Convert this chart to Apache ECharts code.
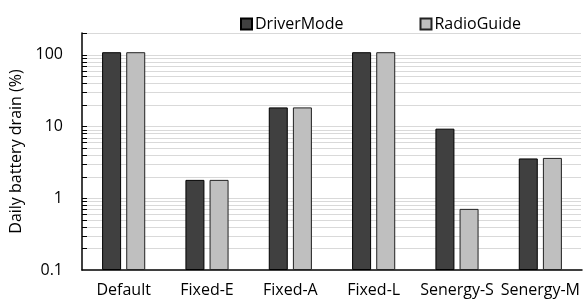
<!DOCTYPE html>
<html>
<head>
<meta charset="utf-8">
<script src="https://cdn.jsdelivr.net/npm/echarts@6/dist/echarts.min.js"></script>
<style>
  html, body { margin: 0; padding: 0; background: #fff; }
  #chart { width: 585px; height: 301px; }
</style>
</head>
<body>
<div id="chart"></div>
<script>
// categories and series
const categories = ["Default", "Fixed-E", "Fixed-A", "Fixed-L", "Senergy-S", "Senergy-M"];
const driverMode = [108, 1.8, 18.4, 108, 9.3, 3.58];
const radioGuide = [108, 1.8, 18.4, 108, 0.71, 3.64];
// log gridlines (minor + major) between 0.1 and 200
const gridValues = [0.2, 0.3, 0.4, 0.5, 0.6, 0.7, 0.8, 0.9, 1,
  2, 3, 4, 5, 6, 7, 8, 9, 10,
  20, 30, 40, 50, 60, 70, 80, 90, 100, 200];

const font = "'Open Sans', sans-serif";
const chart = echarts.init(document.getElementById("chart"));

chart.setOption({
  animation: false,
  textStyle: { fontFamily: font },
  legend: {
    data: ["DriverMode", "RadioGuide"],
    left: 235,
    top: 11,
    itemWidth: 11,
    itemHeight: 11,
    itemGap: 76,
    icon: "rect",
    textStyle: { fontSize: 16, color: "#000", fontFamily: font, padding: [0, 0, 0, -2] },
  },
  grid: { left: 82, right: 3, top: 33, bottom: 31 },
  xAxis: {
    type: "category",
    data: categories,
    axisTick: { show: false },
    axisLine: { lineStyle: { color: "#000", width: 1.5 } },
    axisLabel: { color: "#000", fontSize: 16, margin: 12, interval: 0 },
  },
  yAxis: {
    type: "log",
    logBase: 10,
    min: 0.1,
    max: 200,
    startValue: 0.1,
    name: "Daily battery drain (%)",
    nameLocation: "middle",
    nameGap: 56,
    nameTextStyle: { fontSize: 16, color: "#000" },
    axisLine: { show: true, lineStyle: { color: "#000", width: 1.5 } },
    axisTick: { show: false },
    splitLine: { show: false },
    axisLabel: {
      color: "#000",
      fontSize: 16,
      margin: 19,
      formatter: function (v) {
        if (v >= 200) return "";
        return String(+v.toPrecision(3));
      },
    },
  },
  series: [
    {
      // gridlines and inside ticks
      type: "custom",
      silent: true,
      z: 0,
      data: gridValues.map(function (v) { return [0, v]; }),
      encode: { x: 0, y: 1 },
      renderItem: function (params, api) {
        const cs = params.coordSys;
        const y = Math.round(api.coord([0, api.value(1)])[1]) + 0.5;
        return {
          type: "group",
          children: [
            {
              type: "line",
              shape: { x1: cs.x, y1: y, x2: cs.x + cs.width - 1, y2: y },
              style: { stroke: "#d9d9d9", lineWidth: 1 },
            },
            {
              type: "line",
              shape: { x1: cs.x, y1: y, x2: cs.x + 5, y2: y },
              style: { stroke: "#000", lineWidth: 1 },
            },
          ],
        };
      },
    },
    {
      name: "DriverMode",
      type: "bar",
      barWidth: 19,
      barGap: "27%",
      z: 3,
      itemStyle: { color: "#404040", borderColor: "#000", borderWidth: 1 },
      data: driverMode,
    },
    {
      name: "RadioGuide",
      type: "bar",
      barWidth: 19,
      z: 3,
      itemStyle: { color: "#bfbfbf", borderColor: "#222", borderWidth: 1 },
      data: radioGuide,
    },
  ],
});
</script>
</body>
</html>
